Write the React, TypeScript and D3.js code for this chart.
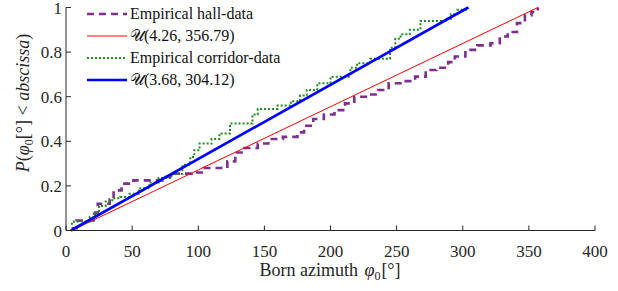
import React from 'react';
import * as d3 from 'd3';

// empirical CDF step points (azimuth in degrees, cumulative probability)
const hallX = [4.3, 8, 22, 24, 33, 36, 42, 51, 73, 80, 95, 104, 122, 128, 135, 145, 153, 164, 175, 180, 187, 195, 203, 211, 218, 228, 236, 244, 254, 264, 272, 280, 289, 294, 302, 311, 321, 328, 334, 341, 347, 352, 356.8];
const hallY = [0.01, 0.045, 0.08, 0.12, 0.14, 0.18, 0.21, 0.225, 0.24, 0.255, 0.26, 0.28, 0.31, 0.35, 0.37, 0.39, 0.41, 0.42, 0.44, 0.47, 0.5, 0.52, 0.54, 0.57, 0.6, 0.61, 0.63, 0.66, 0.67, 0.69, 0.72, 0.73, 0.755, 0.78, 0.81, 0.83, 0.84, 0.87, 0.89, 0.93, 0.965, 0.98, 1.0];

const corrX = [3.7, 6, 18, 21, 25, 30, 35, 41, 48, 55, 63, 70, 80, 88, 94, 97, 101, 110, 116, 124, 141, 145, 160, 170, 177, 182, 190, 200, 215, 220, 230, 245, 249, 253, 260, 268, 287, 291, 296, 304.1];
const corrY = [0.03, 0.04, 0.06, 0.08, 0.11, 0.13, 0.145, 0.15, 0.165, 0.19, 0.215, 0.235, 0.255, 0.295, 0.33, 0.36, 0.39, 0.41, 0.435, 0.48, 0.52, 0.545, 0.56, 0.58, 0.605, 0.63, 0.66, 0.69, 0.73, 0.75, 0.77, 0.82, 0.86, 0.88, 0.9, 0.94, 0.95, 0.97, 0.99, 1.0];

// fitted uniform distributions [a, b]
const hallFit = [4.26, 356.79];
const corrFit = [3.68, 304.12];

const legendLabels = ['Empirical hall-data', '\u{1D4B0}(4.26, 356.79)', 'Empirical corridor-data', '\u{1D4B0}(3.68, 304.12)'];

const xTicks = [0, 50, 100, 150, 200, 250, 300, 350, 400];
const yTicks = [0, 0.2, 0.4, 0.6, 0.8, 1];

const W = 618, H = 291;
const axisColor = '#262626';
const font = '"Liberation Serif", "Times New Roman", serif';

export default function App() {
  const x = d3.scaleLinear().domain([0, 400]).range([66, 595]);
  const y = d3.scaleLinear().domain([0, 1]).range([230.5, 7.5]);

  const step = d3.line<[number, number]>()
    .x(d => x(d[0])).y(d => y(d[1]))
    .curve(d3.curveStepAfter);
  const straight = d3.line<[number, number]>().x(d => x(d[0])).y(d => y(d[1]));

  const hallPts = hallX.map((v, i) => [v, hallY[i]] as [number, number]);
  const corrPts = corrX.map((v, i) => [v, corrY[i]] as [number, number]);

  const styles = [
    { stroke: '#7E2F8E', width: 2.6, dash: '7,5' },
    { stroke: '#FF0000', width: 1, dash: '' },
    { stroke: '#1E8C1E', width: 2, dash: '2,2' },
    { stroke: '#0000FF', width: 2.6, dash: '' },
  ];

  return (
    <svg width={W} height={H} style={{ position: 'absolute', left: 0, top: 0, background: '#fff' }}
      fontFamily={font}>
      <rect width={W} height={H} fill="#fff" />
      {/* curves */}
      <path d={step(hallPts) || ''} fill="none" stroke={styles[0].stroke} strokeWidth={styles[0].width} strokeDasharray={styles[0].dash} />
      <path d={straight([[hallFit[0], 0], [hallFit[1], 1]]) || ''} fill="none" stroke={styles[1].stroke} strokeWidth={styles[1].width} />
      <path d={step(corrPts) || ''} fill="none" stroke={styles[2].stroke} strokeWidth={styles[2].width} strokeDasharray={styles[2].dash} />
      <path d={straight([[corrFit[0], 0], [corrFit[1], 1]]) || ''} fill="none" stroke={styles[3].stroke} strokeWidth={styles[3].width} />

      {/* axes */}
      <line x1={x(0)} x2={x(400)} y1={y(0)} y2={y(0)} stroke={axisColor} strokeWidth={1} />
      <line x1={x(0)} x2={x(0)} y1={y(0)} y2={y(1)} stroke={axisColor} strokeWidth={1} />
      {xTicks.map(t => (
        <g key={'x' + t}>
          <line x1={x(t)} x2={x(t)} y1={y(0)} y2={y(0) - 5} stroke={axisColor} />
          <text x={x(t)} y={y(0) + 26.5} textAnchor="middle" fontSize={17} fill={axisColor}>{t}</text>
        </g>
      ))}
      {yTicks.map(t => (
        <g key={'y' + t}>
          <line x1={x(0)} x2={x(0) + 5} y1={y(t)} y2={y(t)} stroke={axisColor} />
          <text x={x(0) - 4} y={y(t) + 6} textAnchor="end" fontSize={17} fill={axisColor}>{t}</text>
        </g>
      ))}

      {/* axis labels */}
      <text x={330} y={276} textAnchor="middle" fontSize={18} fill={axisColor}>
        Born azimuth <tspan fontStyle="italic" dx={2}>φ</tspan><tspan fontSize={12} dy={4}>0</tspan><tspan dy={-4} dx={1}>[°]</tspan>
      </text>
      <text transform={`translate(29, 103) rotate(-90)`} textAnchor="middle" fontSize={18} fill={axisColor}>
        <tspan fontStyle="italic">P</tspan>(<tspan fontStyle="italic">φ</tspan><tspan fontSize={12} dy={4}>0</tspan><tspan dy={-4}>[°] &lt; </tspan><tspan fontStyle="italic">abscissa</tspan>)
      </text>

      {/* legend */}
      {legendLabels.map((l, i) => {
        const ly = 14 + i * 22;
        const s = styles[i];
        return (
          <g key={l}>
            <line x1={87} x2={127} y1={ly} y2={ly} stroke={s.stroke} strokeWidth={s.width} strokeDasharray={s.dash} />
            <text x={130} y={ly + 5} fontSize={16} fill="#111">{l}</text>
          </g>
        );
      })}
    </svg>
  );
}
